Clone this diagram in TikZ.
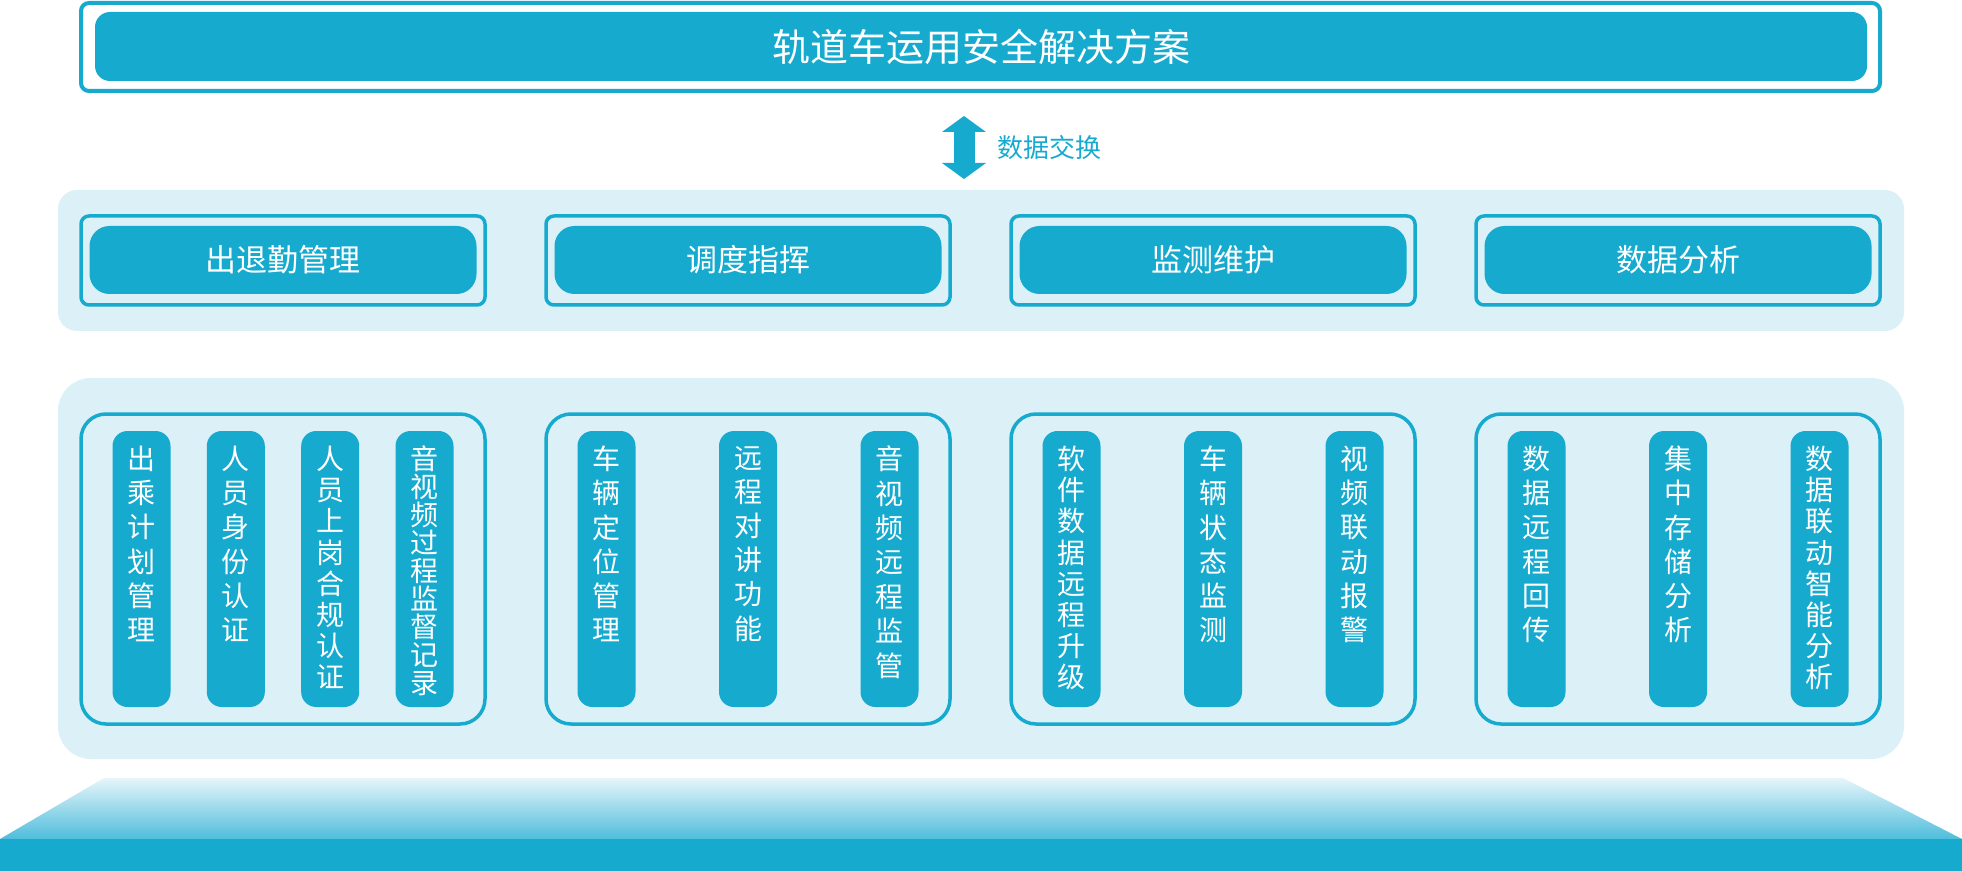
\documentclass[tikz,border=0pt]{standalone}
\usepackage{fontspec}
\usepackage{xcolor}
\usepackage{tikz}
\usetikzlibrary{arrows.meta}
\newfontfamily\cjk{Noto Sans CJK SC}
\definecolor{brand}{HTML}{16AACF}
\definecolor{pale}{HTML}{DBF0F7}
\definecolor{mist}{HTML}{E6F5FA}
\definecolor{deep}{HTML}{4FBDDC}
\tikzset{
  rim/.style={draw=brand, line width=1.75pt, rounded corners=4pt, inner sep=0pt},
  slab/.style={fill=brand, text=white, rounded corners=#1, inner sep=0pt},
  band/.style={fill=pale, rounded corners=#1, inner sep=0pt},
  pill/.style={fill=brand, rounded corners=7.5pt, minimum width=29pt, minimum height=138pt, inner sep=0pt},
  pilltxt/.style={text=white, align=center, inner sep=0pt,
    font={\cjk\fontsize{14pt}{#1}\selectfont\lineskiplimit=-20pt}},
  xchg/.style={draw=brand, line width=10.5pt,
    {Triangle[length=8pt,width=22pt,line width=0pt]}-{Triangle[length=8pt,width=22pt,line width=0pt]}},
  lab/.style={text=brand, font=\cjk\fontsize{13pt}{16pt}\selectfont, inner sep=0pt},
}

\begin{document}
\begin{tikzpicture}[x=0.5pt, y=-0.5pt]
  \useasboundingbox (0,0) rectangle (1962,871);

  % header
  \node[rim, line width=2pt, minimum width=899.5pt, minimum height=44pt] (solrim) at (980.5,47) {};
  \node[slab=7.5pt, minimum width=886pt, minimum height=34.5pt,
        font=\cjk\fontsize{19pt}{22pt}\selectfont] (sol) at (981,46.5) {轨道车运用安全解决方案};

  % data exchange
  \coordinate (xtop) at (964,116);
  \coordinate (xbot) at (964,179);
  \draw[xchg] (xtop) -- (xbot);
  \node[lab, anchor=west] (xlab) at (997,148) {数据交换};

  % two bands
  \node[band=9.5pt, minimum width=923pt, minimum height=70.5pt] (upper) at (981,260.5) {};
  \node[band=16.5pt, minimum width=923pt, minimum height=190.5pt] (lower) at (981,568.5) {};

  \foreach \name [count=\i] in {出退勤管理,调度指挥,监测维护,数据分析}{
    \pgfmathsetmacro\cx{283+465*(\i-1)}
    \node[rim, minimum width=202pt, minimum height=44.5pt] (mrim\i) at (\cx,260.5) {};
    \node[slab=10pt, minimum width=193.5pt, minimum height=34pt,
          font=\cjk\fontsize{15.5pt}{18pt}\selectfont] (m\i) at (\cx,260) {\name};
    \node[rim, rounded corners=12.5pt, minimum width=202pt, minimum height=155pt] (f\i) at (\cx,569) {};
  }

  % function pills: x / line pitch / text
  \foreach \px/\gap/\txt [count=\k] in {
      141.5/17.1pt/{出\\乘\\计\\划\\管\\理},
      235.8/17.1pt/{人\\员\\身\\份\\认\\证},
      330.2/15.6pt/{人\\员\\上\\岗\\合\\规\\认\\证},
      424.5/14pt/{音\\视\\频\\过\\程\\监\\督\\记\\录},
      606.5/17.1pt/{车\\辆\\定\\位\\管\\理},
      748/17.1pt/{远\\程\\对\\讲\\功\\能},
      889.5/17.2pt/{音\\视\\频\\远\\程\\监\\管},
      1071.5/15.6pt/{软\\件\\数\\据\\远\\程\\升\\级},
      1213/17.1pt/{车\\辆\\状\\态\\监\\测},
      1354.5/17.1pt/{视\\频\\联\\动\\报\\警},
      1536.5/17.1pt/{数\\据\\远\\程\\回\\传},
      1678/17.1pt/{集\\中\\存\\储\\分\\析},
      1819.5/15.6pt/{数\\据\\联\\动\\智\\能\\分\\析}}{
    \node[pill] (p\k) at (\px,569) {};
    \node[pilltxt=\gap, anchor=north] (t\k) at ([yshift=-7.5pt]p\k.north) {\txt};
  }

  % base platform
  \shade[top color=mist, bottom color=deep] (104,778) -- (1843,778) -- (1962,839) -- (0,839) -- cycle;
  \fill[brand] (0,839) rectangle (1962,871);
\end{tikzpicture}
\end{document}
